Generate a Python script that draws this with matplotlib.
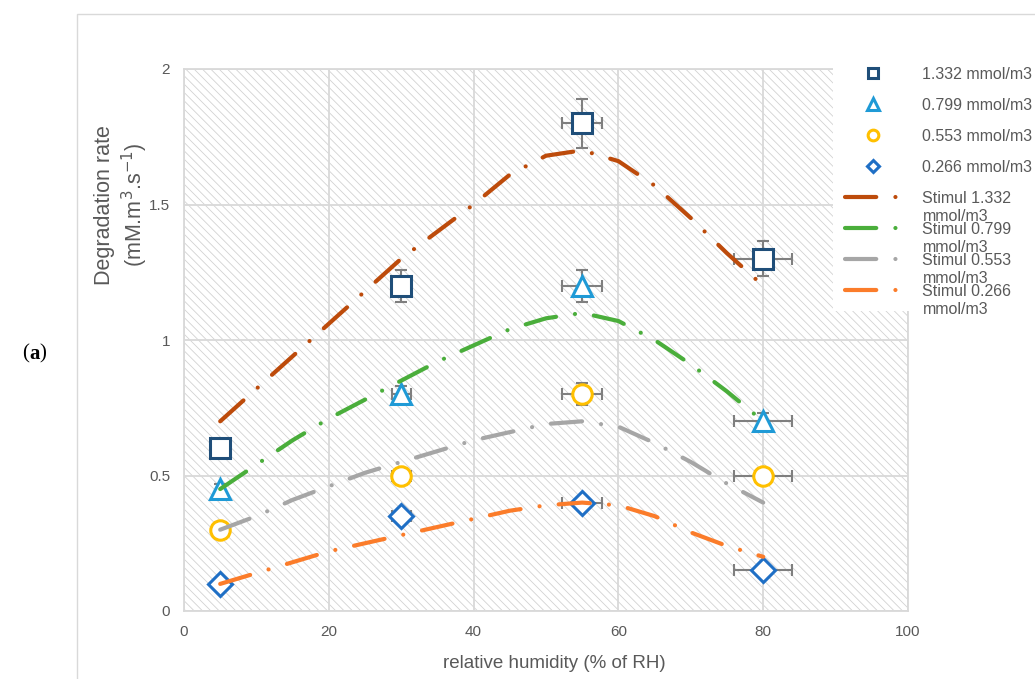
import matplotlib
matplotlib.use('Agg')
import matplotlib.pyplot as plt
import numpy as np
from matplotlib.patches import Rectangle

plt.rcParams['font.family'] = ['Liberation Sans', 'DejaVu Sans']
plt.rcParams['hatch.linewidth'] = 0.6
plt.rcParams['hatch.color'] = '#d2d2d2'

# measured points
rh = [5, 30, 55, 80]
rh_err = [0, 1.3, 2.8, 4]
labels = ['1.332 mmol/m3', '0.799 mmol/m3', '0.553 mmol/m3', '0.266 mmol/m3']
rate_1332 = [0.6, 1.2, 1.8, 1.3]
rate_0799 = [0.45, 0.8, 1.2, 0.7]
rate_0553 = [0.3, 0.5, 0.8, 0.5]
rate_0266 = [0.1, 0.35, 0.4, 0.15]
err_1332 = [0, 0.06, 0.09, 0.065]
err_0799 = [0.02, 0.03, 0.06, 0.03]
err_0553 = [0, 0.02, 0.04, 0.01]
err_0266 = [0, 0.01, 0.01, 0]

# simulated curves
rh_sim = [5, 10, 15, 20, 25, 30, 35, 40, 45, 50, 55, 60, 65, 70, 75, 80]
sim_labels = ['Stimul 1.332', 'Stimul 0.799', 'Stimul 0.553', 'Stimul 0.266']
sim_1332 = [0.70, 0.82, 0.94, 1.06, 1.18, 1.30, 1.40, 1.50, 1.61, 1.68, 1.70, 1.66, 1.57, 1.45, 1.32, 1.20]
sim_0799 = [0.45, 0.54, 0.63, 0.71, 0.78, 0.85, 0.92, 0.98, 1.04, 1.08, 1.10, 1.07, 1.00, 0.91, 0.81, 0.70]
sim_0553 = [0.30, 0.35, 0.41, 0.46, 0.51, 0.55, 0.59, 0.63, 0.66, 0.69, 0.70, 0.68, 0.62, 0.55, 0.47, 0.40]
sim_0266 = [0.10, 0.14, 0.18, 0.22, 0.25, 0.28, 0.31, 0.34, 0.37, 0.39, 0.40, 0.39, 0.35, 0.29, 0.24, 0.20]

rates = [rate_1332, rate_0799, rate_0553, rate_0266]
errs = [err_1332, err_0799, err_0553, err_0266]
sims = [sim_1332, sim_0799, sim_0553, sim_0266]
markers = ['s', '^', 'o', 'D']
msizes = [14, 15, 14, 12]
mcolors = ['#1f4e79', '#1f9ad6', '#ffc000', '#1f6fc5']
lcolors = ['#bd4b0b', '#4aae3b', '#a6a6a6', '#fb7c2a']

fig = plt.figure(figsize=(10.35, 6.79), dpi=100)
ax = fig.add_axes([184/1035, 1-611/679, 724/1035, 542/679])

fig.patches.append(Rectangle((77/1035, -0.01), 1.0, 1-14/679+0.01, transform=fig.transFigure,
                             facecolor='none', edgecolor='#d9d9d9', lw=1, zorder=-5))

ax.add_patch(Rectangle((0, 0), 1, 1, transform=ax.transAxes, facecolor='white',
                       edgecolor='#d2d2d2', lw=0, hatch='\\\\\\\\', zorder=0))

handles = []
for i in range(4):
    ax.errorbar(rh, rates[i], xerr=rh_err, yerr=errs[i], fmt='none', ecolor='#7f7f7f',
                elinewidth=1.5, capsize=4, capthick=1.5, zorder=3)
    h, = ax.plot(rh, rates[i], linestyle='none', marker=markers[i], ms=msizes[i],
                 mfc='white', mec=mcolors[i], mew=2.2, zorder=4, label=labels[i])
    handles.append(h)
for i in range(4):
    h, = ax.plot(rh_sim, sims[i], color=lcolors[i], lw=3, dashes=(7.5, 4.6, 0.01, 4.6),
                 dash_capstyle='round', zorder=5, label=sim_labels[i])
    handles.append(h)

ax.set_xlim(0, 100)
ax.set_ylim(0, 2)
ax.set_xticks([0, 20, 40, 60, 80, 100])
ax.set_yticks([0, 0.5, 1, 1.5, 2])
ax.set_yticklabels(['0', '0.5', '1', '1.5', '2'])
ax.grid(True, color='#d9d9d9', lw=1.3, zorder=1)
ax.set_axisbelow(False)
for s in ax.spines.values():
    s.set_color('#d9d9d9')
    s.set_linewidth(1.3)
ax.tick_params(length=0, colors='#595959', labelsize=11)
ax.tick_params(axis='y', pad=10)
ax.tick_params(axis='x', pad=10)
ax.set_xlabel('relative humidity (% of RH)', color='#595959', fontsize=13.5, va='center')
ax.xaxis.set_label_coords((554-184)/724, -(663-611)/542)
ax.set_ylabel('Degradation rate\n(mM.m$^{3}$.s$^{-1}$)', color='#595959', fontsize=15.5,
              va='center', linespacing=1.25)
ax.yaxis.set_label_coords((122-184)/724, (611-205)/542)

fs = 11.5
leg = ax.legend(handles=handles, loc='upper left', bbox_to_anchor=(833/1035, 1-55/679),
                bbox_transform=fig.transFigure, frameon=True, facecolor='white',
                edgecolor='none', framealpha=1, fancybox=False, fontsize=fs,
                labelcolor='#595959', markerscale=0.55, handlelength=3.45, handletextpad=1.4,
                labelspacing=1.0, borderpad=0.75, borderaxespad=0)
leg.set_zorder(10)

# second line of the wrapped legend labels
fig.canvas.draw()
inv = fig.transFigure.inverted()
for t in leg.get_texts()[4:]:
    bb = t.get_window_extent()
    x0, y0 = inv.transform((bb.x0, bb.y0 - 3))
    fig.text(x0, y0, 'mmol/m3', color='#595959', fontsize=fs, va='top', ha='left', zorder=11)

# panel tag "(a)" with bold letter
x = 22/1035
for s, w in [('(', 'normal'), ('a', 'bold'), (')', 'normal')]:
    t = fig.text(x, 1-354/679, s, fontfamily='Liberation Serif', fontweight=w,
                 fontsize=15, va='center', ha='left')
    fig.canvas.draw()
    x = inv.transform((t.get_window_extent().x1, 0))[0]

fig.savefig('out.png', dpi=100)
